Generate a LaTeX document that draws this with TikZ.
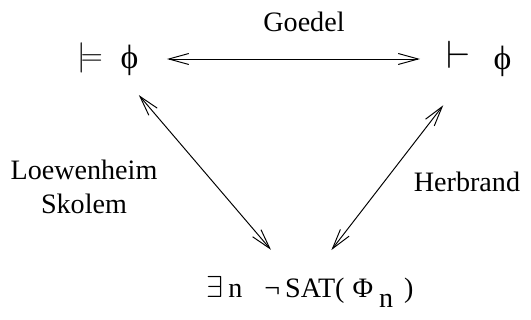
\documentclass[tikz,border=0pt]{standalone}
\usepackage{fontspec}
\setmainfont{Liberation Serif}
\usetikzlibrary{arrows.meta,positioning}
\newcommand{\bigphi}{\raisebox{-0.12em}{\scalebox{1.2}{ϕ}}}
\newcommand{\bigturn}{\raisebox{-0.1em}{\scalebox{1.3}{$\vdash$}}}

\begin{document}
\begin{tikzpicture}[
    x=0.02cm, y=-0.02cm,
    every node/.style={font=\fontsize{16}{19}\selectfont},
    formula/.style={inner sep=0pt},
    label/.style={align=center, inner sep=0pt},
    link/.style={{Straight Barb[length=0.4cm,width=0.22cm]}-{Straight Barb[length=0.4cm,width=0.22cm]}, line width=0.55pt}
]
    \useasboundingbox (0,0) rectangle (531,320);

    % Formulas
    \node[formula] (sem) at (108,59) {$\models$\hspace{0.36cm}\bigphi};
    \node[formula] (syn) at (479,59) {\bigturn\hspace{0.46cm}\bigphi};
    \node[formula] (unsat) at (310,292) {$\exists$\hspace{0.1cm}n\hspace{0.44cm}¬\hspace{0.1cm}SAT(\hspace{0.16cm}Φ\hspace{0.12cm}\raisebox{-0.35em}{n}\hspace{0.22cm})};

    % Labels
    \node[label] (goedel) at (304,22) {Goedel};
    \node[label] (lowsko) at (84,187) {Loewenheim\\Skolem};
    \node[label] (herbrand) at (467,182) {Herbrand};

    % Connections
    \draw[link, shorten <=1.18cm, shorten >=1.18cm] (sem.center) -- (syn.center);
    \draw[link, shorten <=0.95cm, shorten >=1.11cm] (sem.center) -- ([xshift=-0.06cm]unsat.center);
    \draw[link, shorten <=1.17cm, shorten >=1.06cm] (syn.center) -- ([xshift=-0.22cm]unsat.center);
\end{tikzpicture}
\end{document}
